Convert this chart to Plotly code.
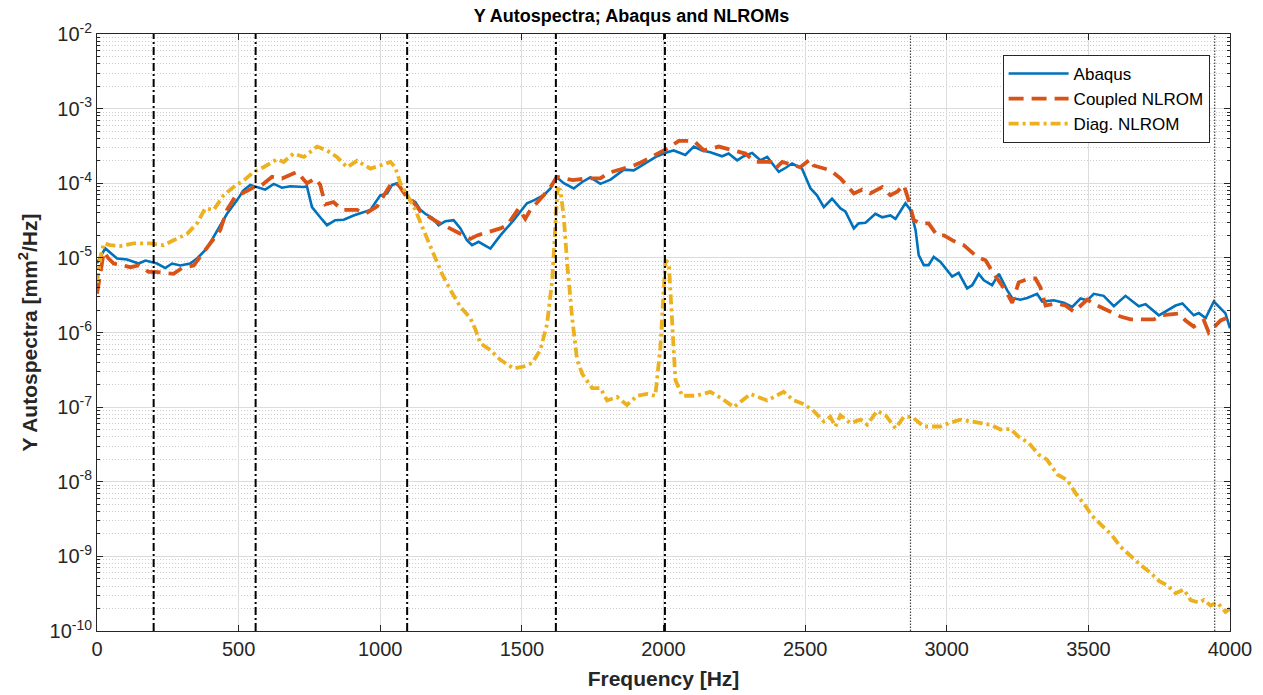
import plotly.graph_objects as go

# ---------------- data ----------------
abaqus_f = [0, 29, 71, 106, 147, 171, 212, 241, 265, 294, 329, 353, 388, 424, 459, 494, 518, 541, 565, 594,
            624, 653, 683, 730, 741, 759, 788, 812, 841, 871, 906, 930, 965, 1000, 1024, 1042, 1059, 1083, 1106,
            1124, 1142, 1159, 1183, 1206, 1230, 1259, 1283, 1306, 1324, 1347, 1389, 1424, 1471, 1518, 1542, 1577,
            1601, 1621, 1648, 1683, 1713, 1742, 1777, 1813, 1860, 1895, 1942, 1977, 2013, 2036, 2077, 2107, 2136,
            2165, 2207, 2230, 2260, 2283, 2313, 2342, 2366, 2407, 2430, 2454, 2489, 2519, 2542, 2566, 2595, 2625,
            2642, 2672, 2689, 2713, 2748, 2772, 2801, 2819, 2854, 2872, 2890, 2901, 2919, 2936, 2954, 2978, 3019,
            3042, 3072, 3090, 3113, 3131, 3160, 3184, 3213, 3231, 3260, 3284, 3319, 3337, 3378, 3413, 3443, 3472,
            3496, 3519, 3554, 3590, 3631, 3678, 3702, 3749, 3808, 3832, 3872, 3890, 3914, 3943, 3984, 4000]
abaqus_v = [8.5e-6, 1.34e-5, 9.8e-6, 9.5e-6, 8.4e-6, 9.2e-6, 8.4e-6, 7.3e-6, 8.4e-6, 7.9e-6, 8.4e-6, 9.8e-6,
            1.34e-5, 2.35e-5, 3.9e-5, 5.9e-5, 8.1e-5, 9.5e-5, 8.9e-5, 8.2e-5, 9.8e-5, 8.7e-5, 9.1e-5, 8.9e-5,
            9.1e-5, 4.8e-5, 3.5e-5, 2.74e-5, 3.2e-5, 3.25e-5, 3.7e-5, 4.0e-5, 4.4e-5, 6.9e-5, 7.3e-5, 9.5e-5,
            1.0e-4, 7.7e-5, 6.0e-5, 5.6e-5, 4.4e-5, 3.9e-5, 3.46e-5, 2.74e-5, 3.1e-5, 3.2e-5, 2.48e-5, 1.72e-5,
            1.48e-5, 1.64e-5, 1.33e-5, 2.0e-5, 3.2e-5, 5.4e-5, 5.9e-5, 6.9e-5, 8.5e-5, 1.22e-4, 1.0e-4, 8.5e-5,
            1.04e-4, 1.2e-4, 9.8e-5, 1.12e-4, 1.52e-4, 1.49e-4, 1.93e-4, 2.3e-4, 2.6e-4, 2.75e-4, 2.4e-4, 3.1e-4,
            2.75e-4, 2.6e-4, 2.3e-4, 2.5e-4, 2.03e-4, 2.3e-4, 2.55e-4, 2.03e-4, 2.25e-4, 1.42e-4, 1.6e-4, 1.84e-4,
            1.57e-4, 8.5e-5, 6.9e-5, 4.8e-5, 6.2e-5, 4.6e-5, 4.2e-5, 2.48e-5, 2.9e-5, 2.95e-5, 3.9e-5, 3.5e-5,
            3.7e-5, 3.33e-5, 5.4e-5, 4.4e-5, 2.35e-5, 1.09e-5, 8.0e-6, 8.0e-6, 1.03e-5, 8.8e-6, 5.6e-6, 6.3e-6,
            3.9e-6, 4.3e-6, 6.1e-6, 5.0e-6, 4.3e-6, 6.1e-6, 3.7e-6, 2.9e-6, 2.75e-6, 2.9e-6, 3.3e-6, 2.6e-6,
            2.7e-6, 2.5e-6, 2.2e-6, 2.85e-6, 2.7e-6, 3.3e-6, 3.1e-6, 2.25e-6, 3.1e-6, 2.25e-6, 2.4e-6, 1.7e-6,
            2.3e-6, 2.45e-6, 1.7e-6, 1.82e-6, 1.56e-6, 2.6e-6, 1.8e-6, 1.14e-6]

coupled_f = [0, 12, 24, 41, 59, 118, 147, 182, 206, 270, 300, 341, 394, 435, 459, 488, 535, 559, 577, 618, 653,
             706, 741, 771, 788, 806, 835, 865, 918, 947, 989, 1024, 1042, 1065, 1089, 1112, 1142, 1200, 1248,
             1318, 1342, 1424, 1448, 1489, 1512, 1530, 1577, 1601, 1624, 1680, 1730, 1777, 1806, 1871, 1895,
             1924, 1977, 2013, 2054, 2107, 2142, 2195, 2289, 2324, 2377, 2395, 2419, 2483, 2519, 2530, 2589,
             2625, 2672, 2701, 2730, 2772, 2801, 2825, 2848, 2860, 2884, 2907, 2936, 2966, 2990, 3025, 3060,
             3107, 3137, 3166, 3207, 3231, 3254, 3290, 3313, 3331, 3349, 3384, 3419, 3449, 3496, 3531, 3578,
             3613, 3649, 3731, 3761, 3819, 3843, 3872, 3908, 3925, 3967, 4000]
coupled_v = [3.3e-6, 6.0e-6, 1.2e-5, 9.8e-6, 8.4e-6, 7.5e-6, 7.9e-6, 6.5e-6, 6.5e-6, 6.1e-6, 7.3e-6, 7.9e-6,
             1.48e-5, 2.35e-5, 4.4e-5, 6.6e-5, 8.1e-5, 9.1e-5, 9.1e-5, 1.22e-4, 1.16e-4, 1.42e-4, 1.0e-4,
             1.16e-4, 9.5e-5, 5.2e-5, 5.6e-5, 4.4e-5, 4.4e-5, 3.9e-5, 4.9e-5, 8.1e-5, 1.04e-4, 9.5e-5, 6.9e-5,
             5.9e-5, 4.2e-5, 3.05e-5, 2.48e-5, 1.8e-5, 2.0e-5, 2.48e-5, 2.74e-5, 4.6e-5, 3.33e-5, 4.4e-5,
             6.9e-5, 8.9e-5, 1.22e-4, 1.1e-4, 1.16e-4, 1.16e-4, 1.38e-4, 1.64e-4, 1.73e-4, 1.93e-4, 2.45e-4,
             2.9e-4, 3.7e-4, 3.7e-4, 2.75e-4, 3.1e-4, 2.5e-4, 1.93e-4, 1.93e-4, 1.57e-4, 1.93e-4, 1.64e-4,
             2.1e-4, 1.73e-4, 1.49e-4, 1.16e-4, 7.3e-5, 8.2e-5, 7.3e-5, 8.9e-5, 6.9e-5, 7.7e-5, 9.5e-5, 6.9e-5,
             3.2e-5, 2.9e-5, 2.9e-5, 2.0e-5, 2.0e-5, 1.68e-5, 1.48e-5, 1.03e-5, 9.3e-6, 6.1e-6, 3.7e-6, 2.5e-6,
             4.7e-6, 5.3e-6, 5.3e-6, 4.0e-6, 2.3e-6, 2.45e-6, 2.3e-6, 1.9e-6, 2.75e-6, 2.3e-6, 1.9e-6, 1.64e-6,
             1.5e-6, 1.5e-6, 1.7e-6, 1.8e-6, 1.45e-6, 1.2e-6, 1.45e-6, 1.0e-6, 1.45e-6, 1.64e-6]

diag_f = [0, 12, 24, 47, 82, 129, 188, 235, 270, 318, 353, 382, 412, 447, 482, 518, 553, 588, 636, 659, 694,
          730, 777, 812, 847, 883, 918, 965, 1000, 1036, 1053, 1071, 1095, 1124, 1153, 1189, 1218, 1248, 1283,
          1318, 1336, 1353, 1389, 1424, 1471, 1506, 1536, 1565, 1589, 1607, 1618, 1626, 1636, 1648, 1660, 1677,
          1695, 1713, 1748, 1777, 1801, 1836, 1871, 1907, 1942, 1971, 1989, 2001, 2007, 2019, 2031, 2042, 2066,
          2113, 2165, 2207, 2248, 2307, 2366, 2424, 2460, 2495, 2530, 2566, 2589, 2607, 2625, 2660, 2695, 2719,
          2754, 2784, 2819, 2848, 2878, 2919, 2978, 3007, 3048, 3095, 3131, 3154, 3190, 3225, 3254, 3290, 3325,
          3354, 3390, 3425, 3455, 3484, 3513, 3549, 3584, 3613, 3649, 3684, 3720, 3749, 3778, 3808, 3837, 3861,
          3890, 3908, 3931, 3955, 3984, 4000]
diag_v = [4.6e-6, 1.03e-5, 1.56e-5, 1.48e-5, 1.44e-5, 1.56e-5, 1.56e-5, 1.48e-5, 1.72e-5, 2.1e-5, 2.9e-5,
          4.6e-5, 4.4e-5, 6.9e-5, 8.9e-5, 1.09e-4, 1.42e-4, 1.64e-4, 2.1e-4, 1.93e-4, 2.5e-4, 2.25e-4, 3.1e-4,
          2.75e-4, 2.25e-4, 1.64e-4, 2.0e-4, 1.57e-4, 1.73e-4, 1.93e-4, 1.64e-4, 1.0e-4, 6.9e-5, 4.4e-5,
          2.35e-5, 1.15e-5, 6.1e-6, 3.7e-6, 2.2e-6, 1.56e-6, 1.1e-6, 7.2e-7, 5.8e-7, 4.3e-7, 3.3e-7, 3.5e-7,
          3.9e-7, 5.8e-7, 1.3e-6, 5.0e-6, 2.35e-5, 8.5e-5, 8.1e-5, 3.5e-5, 8.4e-6, 1.64e-6, 4.3e-7, 2.8e-7,
          1.8e-7, 1.8e-7, 1.23e-7, 1.37e-7, 1.07e-7, 1.42e-7, 1.5e-7, 1.42e-7, 6.3e-7, 5.0e-6, 9.3e-6, 8.4e-6,
          1.1e-6, 2.3e-7, 1.42e-7, 1.42e-7, 1.6e-7, 1.3e-7, 1.0e-7, 1.5e-7, 1.23e-7, 1.6e-7, 1.23e-7, 1.1e-7,
          8.9e-8, 6.4e-8, 7.4e-8, 5.5e-8, 7.8e-8, 6.1e-8, 6.8e-8, 5.8e-8, 8.9e-8, 7.8e-8, 5.2e-8, 7.4e-8,
          7.4e-8, 5.5e-8, 5.5e-8, 6.1e-8, 6.8e-8, 6.3e-8, 6.1e-8, 5.8e-8, 5.0e-8, 5.1e-8, 4.0e-8, 3.3e-8,
          2.3e-8, 1.98e-8, 1.25e-8, 1.06e-8, 7.0e-9, 5.1e-9, 3.5e-9, 2.6e-9, 1.9e-9, 1.35e-9, 1.0e-9, 7.7e-10,
          6.0e-10, 4.7e-10, 4.1e-10, 3.2e-10, 3.6e-10, 2.6e-10, 2.4e-10, 2.6e-10, 2.2e-10, 2.4e-10, 1.8e-10,
          2.0e-10]

dashdot_lines_f = [200, 560, 1095, 1620, 2005]
dotted_lines_f = [2872, 3946]

x_ticks = [0, 500, 1000, 1500, 2000, 2500, 3000, 3500, 4000]
y_tick_exp = [-10, -9, -8, -7, -6, -5, -4, -3, -2]

# ---------------- figure ----------------
FONT = "Liberation Sans, Arial, Helvetica, sans-serif"
TXT = "#262626"

fig = go.Figure()

fig.add_trace(go.Scatter(x=abaqus_f, y=abaqus_v, mode="lines", name="Abaqus",
                         line=dict(color="#0072BD", width=2.6)))
fig.add_trace(go.Scatter(x=coupled_f, y=coupled_v, mode="lines", name="Coupled NLROM",
                         line=dict(color="#D95319", width=3.8, dash="15px,8px")))
fig.add_trace(go.Scatter(x=diag_f, y=diag_v, mode="lines", name="Diag. NLROM",
                         line=dict(color="#EDB120", width=3.8, dash="10px,4px,3px,4px")))

for f in dashdot_lines_f:
    fig.add_shape(type="line", xref="x", yref="paper", x0=f, x1=f, y0=0, y1=1, layer="above",
                  line=dict(color="black", width=2, dash="8px,3px,2px,3px"))
for f in dotted_lines_f:
    fig.add_shape(type="line", xref="x", yref="paper", x0=f, x1=f, y0=0, y1=1, layer="above",
                  line=dict(color="#444444", width=1.2, dash="1.5px,1.5px"))

fig.update_layout(
    width=1263, height=695,
    margin=dict(l=97, r=33, t=34, b=64, autoexpand=False),
    paper_bgcolor="white", plot_bgcolor="white",
    font=dict(family=FONT, color=TXT, size=19),
    title=dict(text="<b>Y Autospectra; Abaqus and NLROMs</b>", x=0.5, xanchor="center",
               y=0.978, yanchor="middle", font=dict(size=18, color="black")),
    showlegend=True,
    legend=dict(x=0.982, y=0.965, xanchor="right", yanchor="top",
                bgcolor="white", bordercolor=TXT, borderwidth=1,
                font=dict(size=17, color="black"), itemwidth=60,
                tracegroupgap=0),
)

fig.update_xaxes(
    range=[0, 4000], tickvals=x_ticks, ticktext=[str(v) for v in x_ticks],
    ticks="inside", ticklen=6, tickcolor=TXT, showline=True, linecolor=TXT, linewidth=1,
    mirror="ticks", showgrid=True, gridcolor="#dcdcdc", gridwidth=1, zeroline=False,
    tickfont=dict(size=20, color=TXT), automargin=False,
    title=dict(text="<b>Frequency [Hz]</b>", font=dict(size=21, color=TXT), standoff=12),
)
fig.update_yaxes(
    type="log", range=[-10, -2],
    tickvals=[10.0 ** e for e in y_tick_exp],
    ticktext=["10<sup>%d</sup>" % e for e in y_tick_exp],
    ticks="inside", ticklen=6, tickcolor=TXT, showline=True, linecolor=TXT, linewidth=1,
    mirror="ticks", showgrid=True, gridcolor="#dcdcdc", gridwidth=1, zeroline=False,
    tickfont=dict(size=20, color=TXT), automargin=False,
    minor=dict(dtick="D1", ticks="inside", ticklen=3, tickcolor=TXT, showgrid=True,
               gridcolor="#cccccc", griddash="1px,2px", gridwidth=1),
    title=dict(text="<b>Y Autospectra [mm<sup>2</sup>/Hz]</b>", font=dict(size=21, color=TXT), standoff=6),
)

fig.write_html("out.html")
